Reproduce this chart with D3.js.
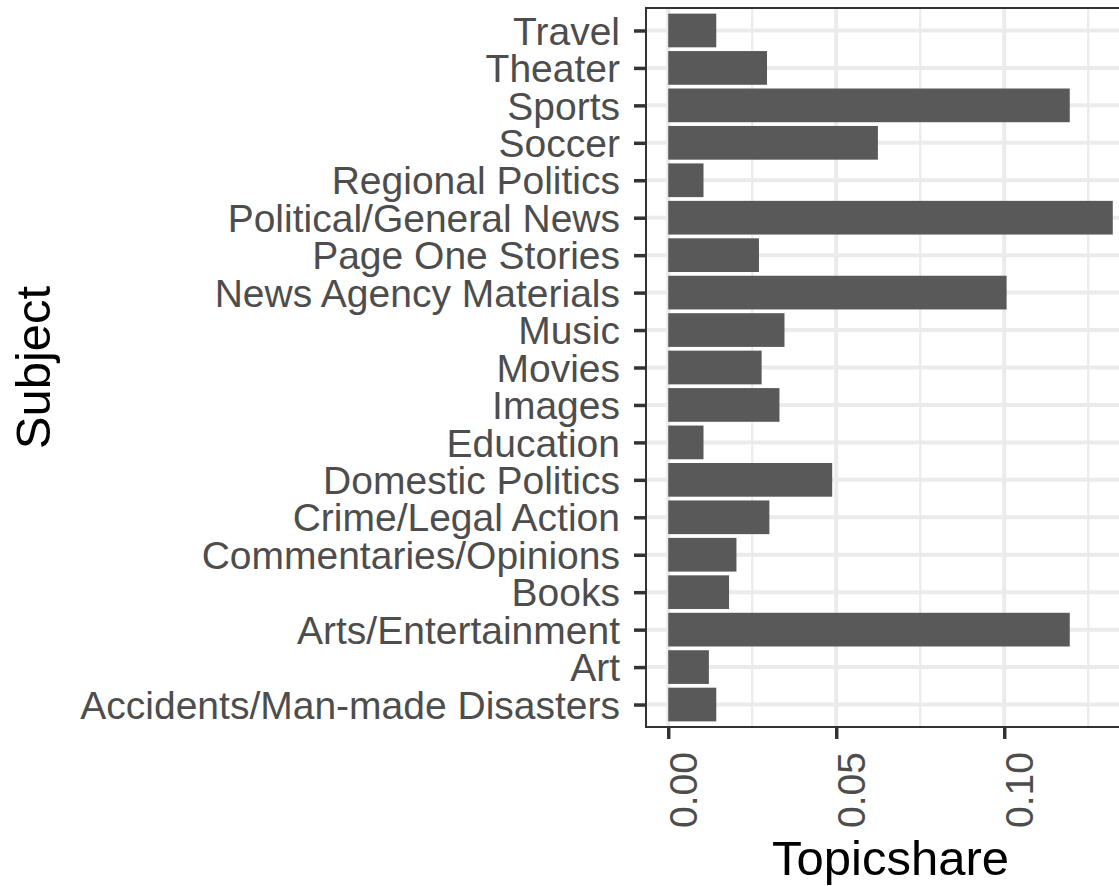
<!DOCTYPE html>
<html>
<head>
<meta charset="utf-8">
<script src="https://cdn.jsdelivr.net/npm/d3@7"></script>
<style>
  html, body { margin: 0; padding: 0; background: #ffffff; }
  svg { display: block; }
  text { font-family: "Liberation Sans", Arial, Helvetica, sans-serif; }
</style>
</head>
<body>
<svg id="chart" width="1119" height="886"></svg>
<script>
// ---- data (top to bottom as displayed) ----
const categories = [
  "Travel", "Theater", "Sports", "Soccer", "Regional Politics",
  "Political/General News", "Page One Stories", "News Agency Materials",
  "Music", "Movies", "Images", "Education", "Domestic Politics",
  "Crime/Legal Action", "Commentaries/Opinions", "Books",
  "Arts/Entertainment", "Art", "Accidents/Man-made Disasters"
];
const topicshare = [
  0.0143, 0.0294, 0.1195, 0.0624, 0.0105,
  0.1323, 0.0270, 0.1007,
  0.0346, 0.0278, 0.0331, 0.0105, 0.0488,
  0.0301, 0.0203, 0.0181,
  0.1195, 0.0121, 0.0143
];
const xTickValues = [0, 0.05, 0.10];
const xMinorValues = [0.025, 0.075, 0.125];
const xTitle = "Topicshare";
const yTitle = "Subject";

const data = categories.map((c, i) => ({ cat: c, val: topicshare[i] }));

const svg = d3.select("#chart");
svg.append("rect").attr("width", 1119).attr("height", 886).attr("fill", "#ffffff");

const panel = { left: 646, right: 1135, top: 8, bottom: 727 };
const maxV = d3.max(topicshare);
const x = d3.scaleLinear()
  .domain([-0.05 * maxV, 1.05 * maxV])
  .range([panel.left, panel.right]);
const y = d3.scalePoint()
  .domain(categories)
  .range([panel.top, panel.bottom])
  .padding(0.6);
const barH = y.step() * 0.9;

// panel background
svg.append("rect")
  .attr("x", panel.left).attr("y", panel.top)
  .attr("width", panel.right - panel.left).attr("height", panel.bottom - panel.top)
  .attr("fill", "#ffffff");

const grid = svg.append("g");
// minor vertical
grid.selectAll("line.vminor").data(xMinorValues).join("line")
  .attr("x1", d => x(d)).attr("x2", d => x(d))
  .attr("y1", panel.top).attr("y2", panel.bottom)
  .attr("stroke", "#ebebeb").attr("stroke-width", 2.2);
// major vertical
grid.selectAll("line.vmajor").data(xTickValues).join("line")
  .attr("x1", d => x(d)).attr("x2", d => x(d))
  .attr("y1", panel.top).attr("y2", panel.bottom)
  .attr("stroke", "#ebebeb").attr("stroke-width", 4);
// major horizontal
grid.selectAll("line.hmajor").data(categories).join("line")
  .attr("x1", panel.left).attr("x2", panel.right)
  .attr("y1", d => y(d)).attr("y2", d => y(d))
  .attr("stroke", "#ebebeb").attr("stroke-width", 4);

// bars
svg.append("g").selectAll("rect").data(data).join("rect")
  .attr("x", x(0))
  .attr("y", d => y(d.cat) - barH / 2)
  .attr("width", d => x(d.val) - x(0))
  .attr("height", barH)
  .attr("fill", "#595959");

// panel border
svg.append("rect")
  .attr("x", panel.left).attr("y", panel.top)
  .attr("width", panel.right - panel.left).attr("height", panel.bottom - panel.top)
  .attr("fill", "none").attr("stroke", "#333333").attr("stroke-width", 2);

// y axis
const yAxis = svg.append("g")
  .attr("transform", `translate(${panel.left},0)`)
  .call(d3.axisLeft(y).tickSize(12).tickPadding(14));
yAxis.select(".domain").remove();
yAxis.selectAll(".tick line").attr("stroke", "#333333").attr("stroke-width", 3.5);
yAxis.selectAll(".tick text")
  .attr("fill", "#4d4d4d")
  .style("font-size", "39px")
  .attr("dy", "0.35em");

// x axis
const xAxis = svg.append("g")
  .attr("transform", `translate(0,${panel.bottom})`)
  .call(d3.axisBottom(x).tickValues(xTickValues).tickFormat(d3.format(".2f")).tickSize(12));
xAxis.select(".domain").remove();
xAxis.selectAll(".tick line").attr("stroke", "#333333").attr("stroke-width", 3.5);
xAxis.selectAll(".tick text")
  .attr("fill", "#4d4d4d")
  .style("font-size", "39px")
  .attr("text-anchor", "end")
  .attr("x", 0).attr("y", 0)
  .attr("dy", "0.72em")
  .attr("transform", "translate(0,25) rotate(-90)");

// axis titles
svg.append("text")
  .attr("x", (panel.left + panel.right) / 2)
  .attr("y", 875)
  .attr("text-anchor", "middle")
  .attr("fill", "#000000")
  .style("font-size", "49px")
  .text(xTitle);

svg.append("text")
  .attr("transform", `translate(50,${(panel.top + panel.bottom) / 2}) rotate(-90)`)
  .attr("text-anchor", "middle")
  .attr("fill", "#000000")
  .style("font-size", "49px")
  .text(yTitle);
</script>
</body>
</html>
